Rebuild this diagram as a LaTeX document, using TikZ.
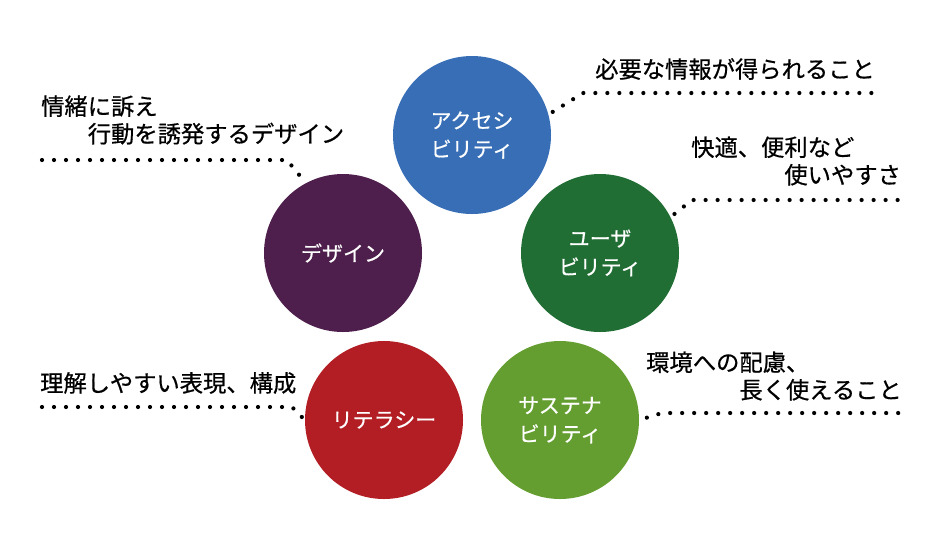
\documentclass[tikz,border=0pt]{standalone}
\usepackage{fontspec}
\setmainfont{Noto Sans CJK JP}[FakeBold=0.6]
\definecolor{accBlue}{HTML}{376EB5}
\definecolor{desPurple}{HTML}{4E1F4C}
\definecolor{usaGreen}{HTML}{216E34}
\definecolor{litRed}{HTML}{B21E24}
\definecolor{susGreen}{HTML}{649E30}
\begin{document}
\begin{tikzpicture}[x=1pt,y=-1pt]
		\tikzstyle{circ}=[circle,minimum size=158pt,inner sep=0pt,align=center,text=white,font=\fontsize{21pt}{28.5pt}\selectfont]
		\tikzstyle{note}=[anchor=west,inner sep=0pt,align=left,font=\fontsize{23.3pt}{27.5pt}\selectfont]
		\tikzstyle{dots}=[line width=4.2pt,line cap=round,dash pattern=on 0pt off 12pt]
		\useasboundingbox (0,0) rectangle (936,550);

		\node[circ,fill=accBlue]   (acc) at (472,135) {アクセシ\\ビリティ};
		\node[circ,fill=desPurple] (des) at (343,253) {デザイン};
		\node[circ,fill=usaGreen]  (usa) at (600,253) {ユーザ\\ビリティ};
		\node[circ,fill=litRed]    (lit) at (384,420) {リテラシー};
		\node[circ,fill=susGreen]  (sus) at (560,420) {サステナ\\ビリティ};

		\node[note,anchor=east] (accNote) at (875,69) {必要な情報が得られること};
		\node[note] (desNote) at (41,120) {情緒に訴え\\\hspace{2em}行動を誘発するデザイン};
		\node[note] (usaNote) at (691,161) {快適、便利など\\\hspace{4em}使いやすさ};
		\node[note] (litNote) at (40,383) {理解しやすい表現、構成};
		\node[note] (susNote) at (646,376) {環境への配慮、\\\hspace{4em}長く使えること};

		\coordinate (accBend) at (583,93);
		\coordinate (accEnd)  at (875,93);
		\coordinate (usaBend) at (692,200);
		\coordinate (usaEnd)  at (900,200);
		\coordinate (desEnd)  at (42,160);
		\coordinate (desBend) at (287,160);
		\coordinate (litEnd)  at (42,407);
		\coordinate (litBend) at (292,407);
		\coordinate (susBend) at (662,413);
		\coordinate (susEnd)  at (903,413);

		\draw[dots,shorten <=5pt] (acc.15) -- (accBend) -- (accEnd);
		\draw[dots,shorten <=5pt] (usa.27) -- (usaBend) -- (usaEnd);
		\draw[dots,shorten >=5pt] (desEnd) -- (desBend) -- (des.118);
		\draw[dots,shorten >=2pt] (litEnd) -- (litBend) -- (lit.west);
		\draw[dots,shorten <=8pt] (sus.east) -- (susBend) -- (susEnd);
		\end{tikzpicture}
\end{document}
